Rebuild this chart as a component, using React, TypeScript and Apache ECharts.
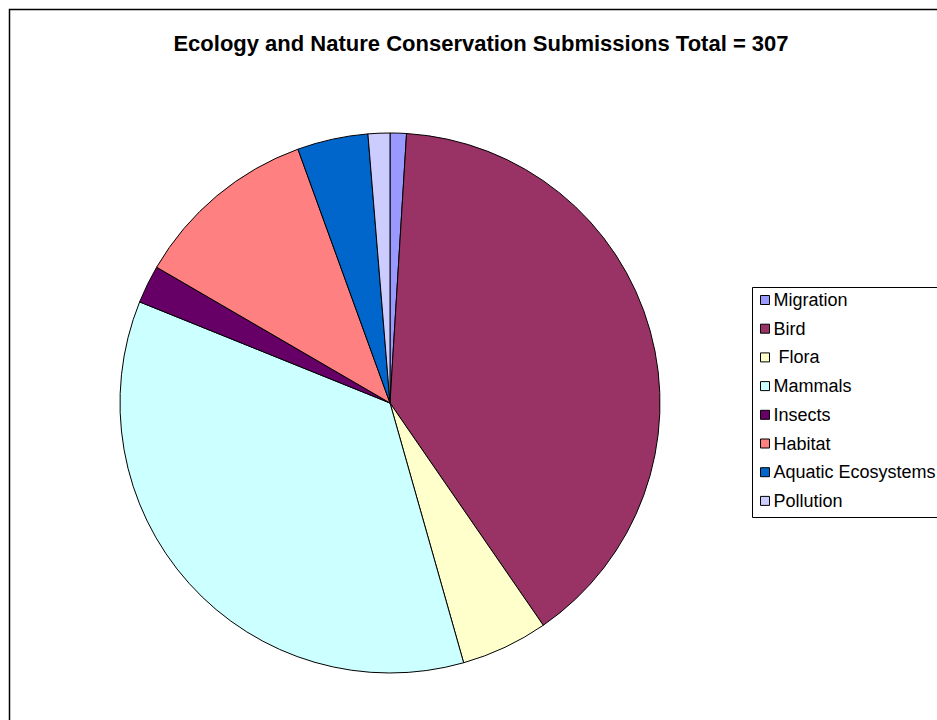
import React, { useEffect, useRef } from "react";
import * as echarts from "echarts";

const categories = ["Migration", "Bird", " Flora", "Mammals", "Insects", "Habitat", "Aquatic Ecosystems", "Pollution"];
const values = [3, 121, 16, 109, 7, 34, 13, 4];
const colors = ["#9999FF", "#993366", "#FFFFCC", "#CCFFFF", "#660066", "#FF8080", "#0066CC", "#CCCCFF"];
const titleText = "Ecology and Nature Conservation Submissions Total = 307";

export default function App() {
  const ref = useRef<HTMLDivElement>(null);
  useEffect(() => {
    if (!ref.current) return;
    const chart = echarts.init(ref.current, null, { renderer: "svg" });
    chart.setOption({
      animation: false,
      backgroundColor: "#ffffff",
      title: {
        text: titleText,
        left: 481,
        top: 32,
        padding: 0,
        textAlign: "center",
        textStyle: { fontFamily: "Liberation Sans, Arial", fontSize: 22, fontWeight: "bold", color: "#000" },
      },
      graphic: [
        { type: "rect", shape: { x: 9.5, y: 9.5, width: 1000, height: 1000 }, style: { fill: "none", stroke: "#000", lineWidth: 1.5 }, silent: true },
        { type: "rect", shape: { x: 752.5, y: 287.5, width: 300, height: 230 }, style: { fill: "#fff", stroke: "#000", lineWidth: 1 }, silent: true, z: 0 },
      ],
      legend: {
        orient: "vertical",
        left: 760,
        top: 290,
        padding: 0,
        icon: "rect",
        itemWidth: 9,
        itemHeight: 9,
        itemGap: 8.7,
        itemStyle: { borderColor: "#000", borderWidth: 1 },
        textStyle: { fontFamily: "Liberation Sans, Arial", fontSize: 18, color: "#000", lineHeight: 20, padding: [0, 0, 0, -1] },
        data: categories,
        z: 5,
      },
      series: [
        {
          type: "pie",
          center: [390, 403],
          radius: 270,
          startAngle: 90,
          clockwise: true,
          label: { show: false },
          labelLine: { show: false },
          emphasis: { disabled: true },
          itemStyle: { borderColor: "#000", borderWidth: 1 },
          data: categories.map((name, i) => ({ name, value: values[i], itemStyle: { color: colors[i] } })),
        },
      ],
    });
    return () => chart.dispose();
  }, []);
  return <div ref={ref} style={{ position: "fixed", left: 0, top: 0, width: 937, height: 720 }} />;
}
